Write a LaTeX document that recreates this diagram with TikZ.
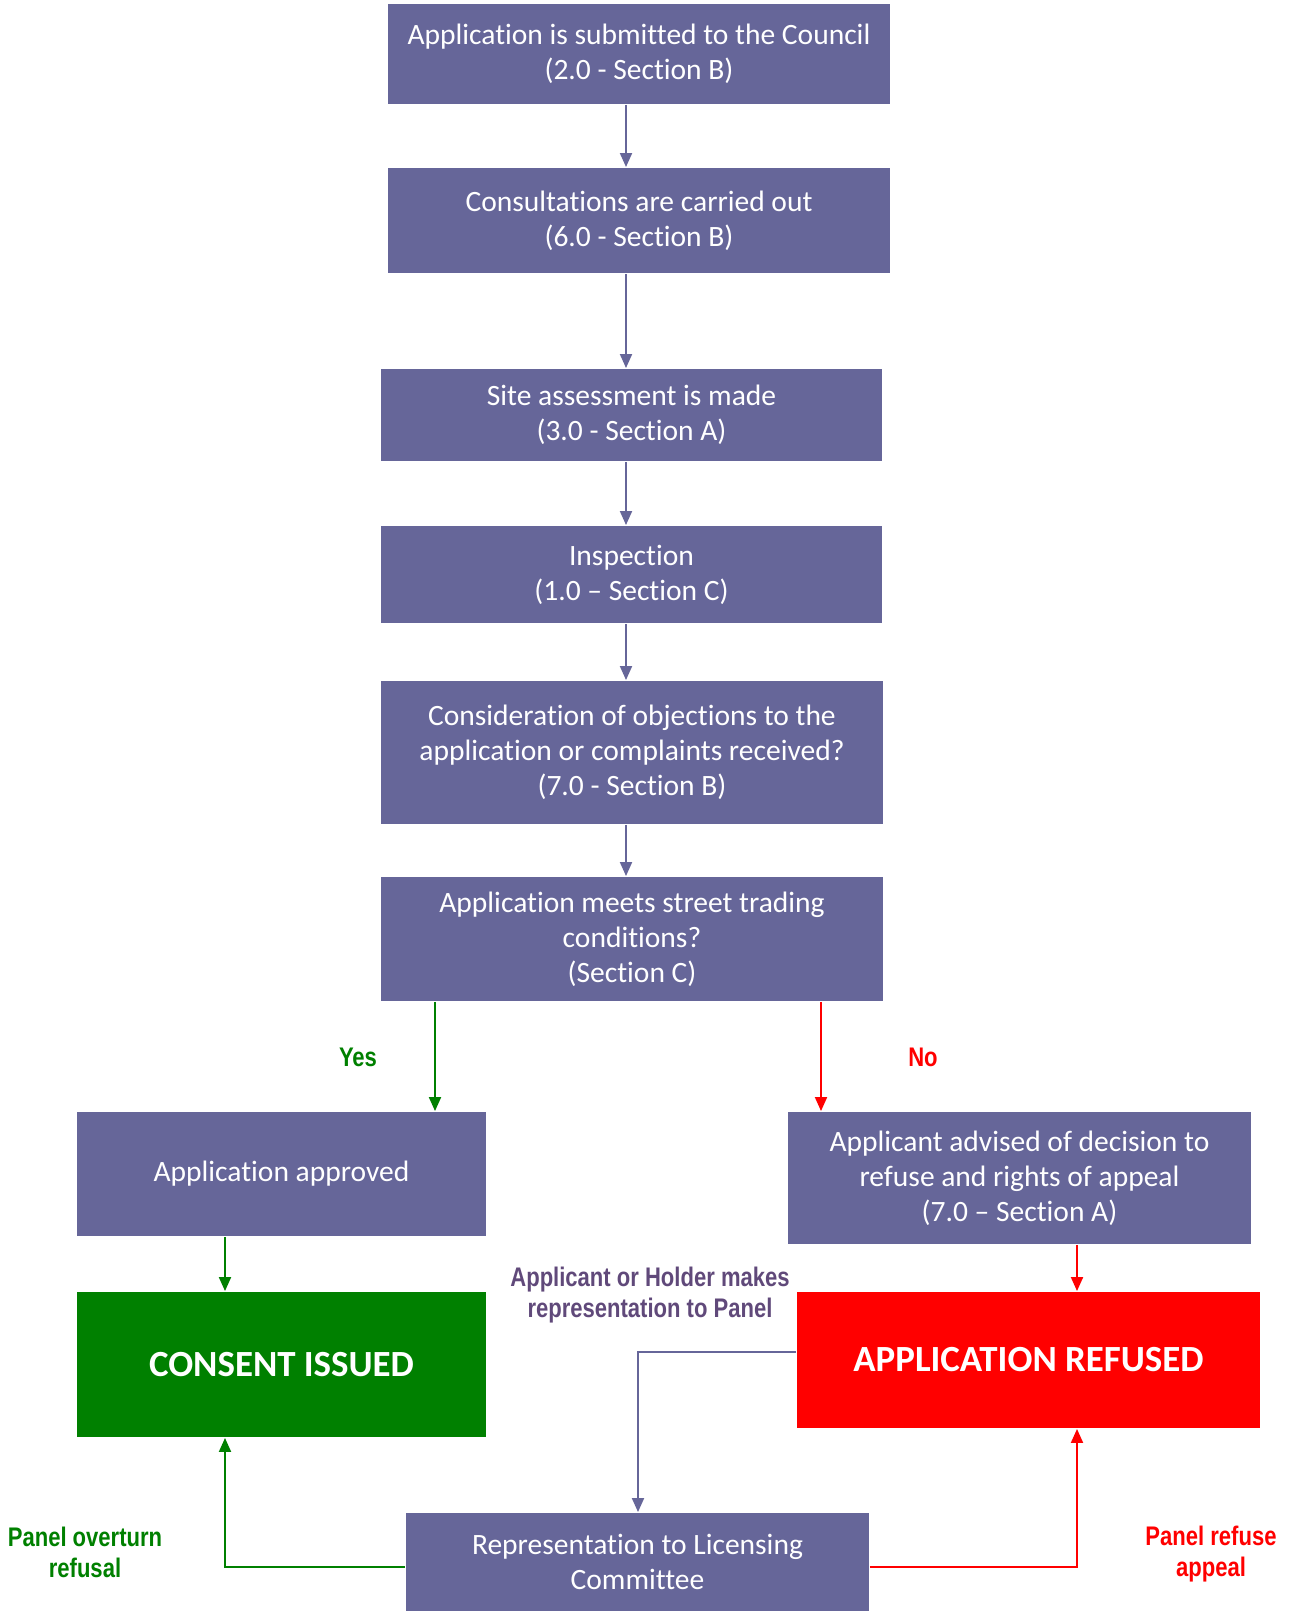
\documentclass[tikz,border=0pt]{standalone}
\usepackage{fontspec}
\setmainfont{Carlito}[Ligatures={TeX,NoCommon}]
\newfontfamily\narrowfont[FakeStretch=0.82]{Liberation Sans}
\usetikzlibrary{arrows.meta,positioning}
\definecolor{procV}{RGB}{102,102,153}
\definecolor{okG}{RGB}{0,128,0}
\definecolor{noR}{RGB}{255,0,0}
\definecolor{noteV}{RGB}{96,73,122}

\begin{document}
\begin{tikzpicture}[x=0.02cm, y=-0.02cm, >={Triangle[width=2.4mm,length=2.8mm]}, line width=1.1pt,
  proc/.style={rectangle, fill=procV, text=white, align=center, inner sep=2pt,
               font=\fontsize{16.8}{20}\selectfont},
  endbox/.style={rectangle, text=white, align=center, inner sep=2pt,
                 font=\fontsize{21}{25}\selectfont\bfseries},
  lbl/.style={font=\narrowfont\bfseries\fontsize{15.3}{17.6}\selectfont, align=center}]
  \useasboundingbox (0,0) rectangle (1290,1611);
  % main column
  \node[proc, minimum width=10.04cm, minimum height=2.0cm] (sub) at (639,54)
    {Application is submitted to the Council\\(2.0 - Section B)};
  \node[proc, minimum width=10.04cm, minimum height=2.1cm] (cons) at (639,220.5)
    {Consultations are carried out\\(6.0 - Section B)};
  \node[proc, minimum width=10.02cm, minimum height=1.84cm] (site) at (631.5,415)
    {Site assessment is made\\(3.0 - Section A)};
  \node[proc, minimum width=10.02cm, minimum height=1.94cm] (insp) at (631.5,574.5)
    {Inspection\\(1.0 – Section C)};
  \node[proc, minimum width=10.04cm, minimum height=2.86cm] (objn) at (632,752.5)
    {Consideration of objections to the\\application or complaints received?\\(7.0 - Section B)};
  \node[proc, minimum width=10.04cm, minimum height=2.48cm] (cond) at (632,939)
    {Application meets street trading\\conditions?\\(Section C)};
  % outcomes
  \node[proc, minimum width=8.18cm, minimum height=2.48cm] (appr) at (281.5,1174)
    {Application approved};
  \node[proc, minimum width=9.26cm, minimum height=2.64cm] (advs) at (1019.5,1178)
    {Applicant advised of decision to\\refuse and rights of appeal\\(7.0 – Section A)};
  \node[endbox, fill=okG, minimum width=8.18cm, minimum height=2.9cm] (issued) at (281.5,1364.5)
    {CONSENT ISSUED};
  \node[endbox, fill=noR, minimum width=9.26cm, minimum height=2.72cm] (refused) at (1028.5,1360)
    {APPLICATION REFUSED};
  \node[proc, minimum width=9.26cm, minimum height=1.96cm] (cttee) at (637.5,1562)
    {Representation to Licensing\\Committee};
  % connectors
  \coordinate (spine) at (626,0);
  \foreach \a/\b in {sub/cons,cons/site,site/insp,insp/objn,objn/cond}
    \draw[->, procV] (\a.south -| spine) -- (\b.north -| spine);
  \coordinate (yesx) at (435,0);
  \coordinate (nox) at (821,0);
  \draw[->, okG] (cond.south -| yesx) -- (appr.north -| yesx);
  \draw[->, noR] (cond.south -| nox) -- (advs.north -| nox);
  \coordinate (gx) at (225,0);
  \coordinate (rx) at (1077,0);
  \draw[->, okG] (appr.south -| gx) -- (issued.north -| gx);
  \draw[->, noR] (advs.south -| rx) -- (refused.north -| rx);
  \coordinate (repx) at (638,1352);
  \draw[->, procV] (refused.west |- repx) -- (repx) -- (cttee.north -| repx);
  \coordinate (lowrow) at (0,1567);
  \draw[->, okG] (cttee.west |- lowrow) -| (issued.south -| gx);
  \draw[->, noR] (cttee.east |- lowrow) -| (refused.south -| rx);
  % labels
  \node[lbl, text=okG] (yes) at (358,1057) {Yes};
  \node[lbl, text=noR] (no) at (923,1057) {No};
  \node[lbl, text=noteV] (rep) at (650,1295) {Applicant or Holder makes\\representation to Panel};
  \node[lbl, text=okG] (ovt) at (85,1552) {Panel overturn\\refusal};
  \node[lbl, text=noR] (rfa) at (1211,1554) {Panel refuse\\appeal};
\end{tikzpicture}
\end{document}
